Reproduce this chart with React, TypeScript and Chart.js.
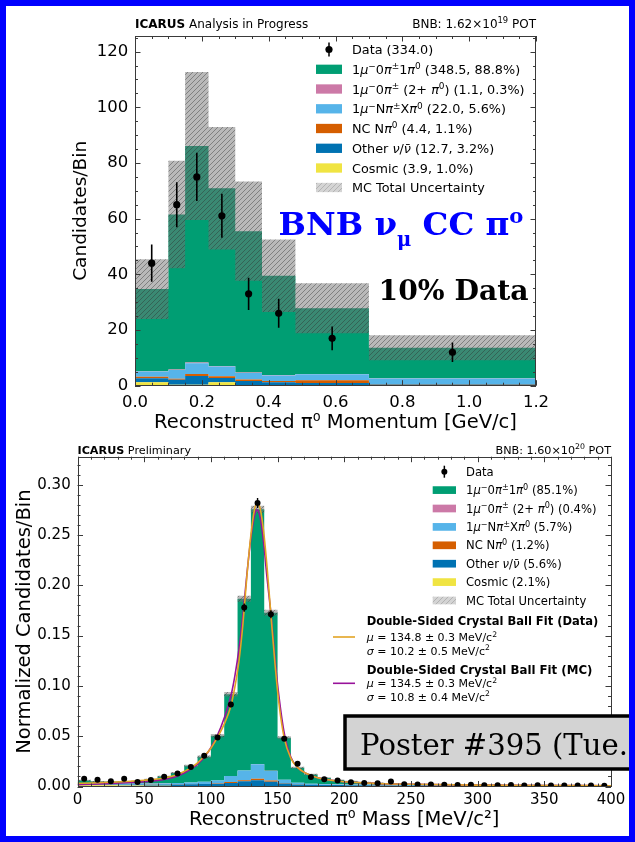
import React, { useEffect, useRef } from "react";
import { Chart, registerables } from "chart.js";
Chart.register(...registerables);

const SANS = "'DejaVu Sans', sans-serif";
const SERIF = "'DejaVu Serif', serif";

const C_SIGNAL = "#009E73";
const C_PINK = "#CC79A7";
const C_LB = "#56B4E9";
const C_NC = "#D55E00";
const C_OTHER = "#0072B2";
const C_COSMIC = "#F0E442";

// ---------------- Top chart: pi0 momentum ----------------
const momEdges = [0, 0.1, 0.15, 0.22, 0.3, 0.38, 0.48, 0.7, 1.2];
const momCosmic = [1.2, 0.3, 0.3, 1.2, 0.2, 0.2, 0.2, 0.1];
const momOther = [1.5, 1.8, 3.2, 1.6, 1.5, 1.0, 0.8, 0.3];
const momNC = [0.5, 0.4, 0.7, 0.6, 0.5, 0.5, 1.0, 0.2];
const momLB = [1.9, 3.1, 3.9, 3.5, 2.4, 2.0, 2.1, 2.0];
const momPink = [0.1, 0.2, 0.2, 0.2, 0.1, 0.1, 0.1, 0.1];
const momSignal = [29.5, 55.7, 77.8, 63.8, 50.8, 35.7, 23.6, 10.9];
const momUnc = [10.7, 19.3, 26.6, 22.0, 17.8, 13.0, 9.0, 4.5];
const momDataX = [0.05, 0.125, 0.185, 0.26, 0.34, 0.43, 0.59, 0.95];
const momData = [44, 65, 75, 61, 33, 26, 17, 12];
const momDataErr = [6.7, 8.1, 8.7, 7.9, 5.8, 5.2, 4.3, 3.5];
const momLegend = [
  "1μ^{−}0π^{±}1π^{0} (348.5, 88.8%)",
  "1μ^{−}0π^{±} (2+ π^{0}) (1.1, 0.3%)",
  "1μ^{−}Nπ^{±}Xπ^{0} (22.0, 5.6%)",
  "NC Nπ^{0} (4.4, 1.1%)",
  "Other ν/ν̄ (12.7, 3.2%)",
  "Cosmic (3.9, 1.0%)",
  "MC Total Uncertainty",
];

// ---------------- Bottom chart: pi0 mass ----------------
const massEdges = Array.from({ length: 41 }, (_, i) => i * 10);
const massCenters = Array.from({ length: 40 }, (_, i) => i * 10 + 5);
const massCosmic = [0.0012, 0.0012, 0.0012, 0.0011, 0.001, 0.0008, 0.0007, 0.0006, 0.0006, 0.0006, 0.0006, 0.0006, 0.0006, 0.0006, 0.0006, 0.0005, 0.0005, 0.0005, 0.0005, 0.0005, 0.0004, 0.0004, 0.0004, 0.0004, 0.0004, 0.0004, 0.0004, 0.0004, 0.0004, 0.0004, 0.0004, 0.0004, 0.0004, 0.0004, 0.0004, 0.0004, 0.0004, 0.0004, 0.0004, 0.0004];
const massOther = [0.0008, 0.0008, 0.0008, 0.0008, 0.0009, 0.001, 0.0012, 0.0014, 0.0016, 0.0018, 0.0022, 0.003, 0.0045, 0.0055, 0.0042, 0.0025, 0.0015, 0.0012, 0.001, 0.0009, 0.0008, 0.0008, 0.0007, 0.0007, 0.0006, 0.0006, 0.0006, 0.0005, 0.0005, 0.0005, 0.0005, 0.0004, 0.0004, 0.0004, 0.0004, 0.0004, 0.0003, 0.0003, 0.0003, 0.0003];
const massNC = [0.0002, 0.0002, 0.0002, 0.0002, 0.0002, 0.0002, 0.0002, 0.0002, 0.0002, 0.0002, 0.0004, 0.0008, 0.0012, 0.0015, 0.0012, 0.0006, 0.0003, 0.0001, 0.0001, 0.0001, 0.0001, 0.0001, 0.0001, 0.0001, 0.0001, 0.0001, 0.0001, 0.0001, 0.0001, 0.0001, 0.0001, 0.0001, 0.0001, 0.0001, 0.0001, 0.0001, 0.0001, 0.0001, 0.0001, 0.0001];
const massLB = [0.0008, 0.0008, 0.0008, 0.0008, 0.0008, 0.0008, 0.001, 0.0012, 0.0015, 0.002, 0.0027, 0.006, 0.0095, 0.0145, 0.0095, 0.003, 0.0014, 0.0009, 0.0007, 0.0006, 0.0005, 0.0005, 0.0004, 0.0004, 0.0004, 0.0003, 0.0003, 0.0003, 0.0003, 0.0003, 0.0003, 0.0003, 0.0003, 0.0003, 0.0003, 0.0003, 0.0003, 0.0003, 0.0003, 0.0003];
const massPink = [0.0001, 0.0001, 0.0001, 0.0001, 0.0001, 0.0001, 0.0001, 0.0001, 0.0001, 0.0001, 0.0001, 0.0001, 0.0002, 0.0003, 0.0002, 0.0001, 0.0001, 0.0001, 0.0001, 0.0001, 0.0001, 0.0001, 0.0001, 0.0001, 0.0001, 0.0001, 0.0001, 0.0001, 0.0001, 0.0001, 0.0001, 0.0001, 0.0001, 0.0001, 0.0001, 0.0001, 0.0001, 0.0001, 0.0001, 0.0001];
const massSignal = [0.0029, 0.0019, 0.0017, 0.002, 0.0025, 0.0041, 0.0068, 0.01, 0.0165, 0.0248, 0.0445, 0.0812, 0.1707, 0.2531, 0.1571, 0.0418, 0.0149, 0.0092, 0.0061, 0.0043, 0.0033, 0.0023, 0.0018, 0.0013, 0.001, 0.0008, 0.0006, 0.0005, 0.0004, 0.0003, 0.0002, 0.0002, 0.0002, 0.0001, 0.0001, 0.0001, 0.0001, 0.0001, 0.0001, 0.0001];
const massUnc = [0.0006, 0.0005, 0.0005, 0.0005, 0.0005, 0.0006, 0.0008, 0.0009, 0.0011, 0.0013, 0.0016, 0.0022, 0.003, 0.0035, 0.0028, 0.0015, 0.0009, 0.0007, 0.0006, 0.0005, 0.0005, 0.0004, 0.0004, 0.0004, 0.0003, 0.0003, 0.0003, 0.0003, 0.0003, 0.0003, 0.0003, 0.0003, 0.0003, 0.0003, 0.0003, 0.0003, 0.0003, 0.0003, 0.0003, 0.0003];
const massData = [0.0078, 0.0068, 0.0052, 0.0078, 0.0045, 0.0065, 0.0098, 0.0128, 0.0195, 0.0305, 0.0488, 0.0815, 0.1778, 0.2818, 0.1712, 0.0475, 0.0227, 0.0094, 0.0073, 0.006, 0.0043, 0.0036, 0.0033, 0.005, 0.0023, 0.002, 0.002, 0.0018, 0.0015, 0.0017, 0.0013, 0.0012, 0.0014, 0.0011, 0.0012, 0.001, 0.0011, 0.0009, 0.001, 0.0008];
const massDataErr = [0.0008, 0.0008, 0.0007, 0.0008, 0.0006, 0.0008, 0.0009, 0.0011, 0.0013, 0.0017, 0.0021, 0.0027, 0.004, 0.005, 0.0039, 0.0021, 0.0014, 0.0009, 0.0008, 0.0007, 0.0006, 0.0006, 0.0005, 0.0007, 0.0005, 0.0004, 0.0004, 0.0004, 0.0004, 0.0004, 0.0004, 0.0004, 0.0004, 0.0004, 0.0004, 0.0004, 0.0004, 0.0004, 0.0004, 0.0004];
const fitDataX = [0, 10, 25, 40, 50, 60, 65, 70, 75, 80, 85, 90, 95, 100, 105, 110, 115, 118, 121, 124, 127, 130, 132.5, 134.8, 137, 139.5, 142, 145, 148, 151, 155, 160, 165, 170, 180, 190, 200, 225, 250, 300, 350, 400];
const fitDataY = [0.0032, 0.0035, 0.0042, 0.0052, 0.0062, 0.0075, 0.0085, 0.01, 0.012, 0.015, 0.0185, 0.0235, 0.03, 0.038, 0.049, 0.062, 0.08, 0.099, 0.124, 0.161, 0.209, 0.25, 0.274, 0.282, 0.276, 0.254, 0.22, 0.171, 0.123, 0.083, 0.048, 0.028, 0.019, 0.014, 0.0088, 0.0062, 0.0047, 0.003, 0.0022, 0.0014, 0.001, 0.0008];
const fitMcX = [0, 10, 25, 40, 50, 60, 65, 70, 75, 80, 85, 90, 95, 100, 105, 110, 115, 118, 121, 124, 127, 130, 132.5, 134.5, 137, 139.5, 142, 145, 148, 151, 155, 160, 165, 170, 180, 190, 200, 225, 250, 300, 350, 400];
const fitMcY = [0.0018, 0.0022, 0.003, 0.004, 0.0048, 0.006, 0.007, 0.0085, 0.0105, 0.0135, 0.0172, 0.0222, 0.029, 0.0385, 0.051, 0.068, 0.09, 0.11, 0.136, 0.17, 0.211, 0.247, 0.268, 0.275, 0.267, 0.243, 0.209, 0.172, 0.128, 0.09, 0.053, 0.029, 0.019, 0.014, 0.0088, 0.0062, 0.0047, 0.003, 0.0022, 0.0014, 0.001, 0.0008];
const massLegend = [
  "1μ^{−}0π^{±}1π^{0} (85.1%)",
  "1μ^{−}0π^{±} (2+ π^{0}) (0.4%)",
  "1μ^{−}Nπ^{±}Xπ^{0} (5.7%)",
  "NC Nπ^{0} (1.2%)",
  "Other ν/ν̄ (5.6%)",
  "Cosmic (2.1%)",
  "MC Total Uncertainty",
];

const C_FIT_DATA = "#E3A424";
const C_FIT_MC = "#98129A";

// ---------------- helpers ----------------
type Seg = { t: string; sup?: boolean; sub?: boolean; it?: boolean };
function parseRich(s: string): Seg[] {
  const segs: Seg[] = [];
  let i = 0;
  let buf = "";
  while (i < s.length) {
    const c = s[i];
    if ((c === "^" || c === "_") && s[i + 1] === "{") {
      if (buf) { segs.push({ t: buf }); buf = ""; }
      const end = s.indexOf("}", i + 2);
      segs.push({ t: s.slice(i + 2, end), sup: c === "^", sub: c === "_" });
      i = end + 1;
    } else { buf += c; i++; }
  }
  if (buf) segs.push({ t: buf });
  return segs;
}

type RichOpts = {
  size: number; family?: string; weight?: string; align?: "left" | "right" | "center";
  color?: string; italicGreek?: boolean; width?: number;
  supScale?: number; subScale?: number; supDy?: number; subDy?: number;
};
function drawRich(ctx: CanvasRenderingContext2D, s: string, x: number, y: number, o: RichOpts): number {
  const fam = o.family || SANS;
  const segs = parseRich(s);
  const runs: Seg[] = [];
  for (const sg of segs) {
    if (o.italicGreek) {
      let cur = ""; let curG: boolean | null = null;
      for (const ch of Array.from(sg.t)) {
        const g = "μπνσ".includes(ch);
        if (curG === null || g === curG) { cur += ch; curG = g; }
        else { runs.push({ ...sg, t: cur, it: !!curG }); cur = ch; curG = g; }
      }
      if (cur) runs.push({ ...sg, t: cur, it: !!curG });
    } else runs.push({ ...sg, it: false });
  }
  const supS = o.supScale ?? 0.7, subS = o.subScale ?? 0.7;
  const fontFor = (r: Seg, sz: number) =>
    `${r.it ? "italic " : ""}${o.weight || "normal"} ${r.sup ? sz * supS : r.sub ? sz * subS : sz}px ${fam}`;
  const measure = (sz: number) => runs.reduce((w, r) => { ctx.font = fontFor(r, sz); return w + ctx.measureText(r.t).width; }, 0);
  let size = o.size;
  if (o.width) size = size * o.width / measure(size);
  const total = measure(size);
  let cx = o.align === "right" ? x - total : o.align === "center" ? x - total / 2 : x;
  ctx.fillStyle = o.color || "#000";
  ctx.textAlign = "left";
  ctx.textBaseline = "alphabetic";
  for (const r of runs) {
    ctx.font = fontFor(r, size);
    const dy = r.sup ? -size * (o.supDy ?? 0.38) : r.sub ? size * (o.subDy ?? 0.2) : 0;
    ctx.fillText(r.t, cx, y + dy);
    cx += ctx.measureText(r.t).width;
  }
  return total;
}

function makeHatch(): CanvasPattern {
  const n = 5;
  const c = document.createElement("canvas");
  c.width = n; c.height = n;
  const g = c.getContext("2d")!;
  g.fillStyle = "rgba(115,115,115,0.5)";
  g.fillRect(0, 0, n, n);
  g.strokeStyle = "rgba(45,45,45,0.45)";
  g.lineWidth = 0.9;
  g.beginPath();
  g.moveTo(0, n); g.lineTo(n, 0);
  g.moveTo(-2, 2); g.lineTo(2, -2);
  g.moveTo(n - 2, n + 2); g.lineTo(n + 2, n - 2);
  g.stroke();
  return g.createPattern(c, "repeat")!;
}

function stepData(edges: number[], vals: number[]) {
  const pts = vals.map((v, i) => ({ x: edges[i], y: v }));
  pts.push({ x: edges[edges.length - 1], y: vals[vals.length - 1] });
  return pts;
}

function histDatasets(edges: number[], comps: { data: number[]; color: string }[], unc: number[], hatch: CanvasPattern) {
  const ds: any[] = [];
  const cum = new Array(edges.length - 1).fill(0);
  comps.forEach((c, k) => {
    for (let i = 0; i < cum.length; i++) cum[i] += c.data[i];
    ds.push({
      type: "line", data: stepData(edges, cum.slice()), stepped: true,
      borderColor: "rgba(0,0,0,0)", borderWidth: 0, pointRadius: 0,
      backgroundColor: c.color, fill: k === 0 ? "origin" : "-1", order: 10,
    });
  });
  const lo = cum.map((v, i) => Math.max(v - unc[i], 0));
  const hi = cum.map((v, i) => v + unc[i]);
  ds.push({ type: "line", data: stepData(edges, lo), stepped: true, borderColor: "rgba(0,0,0,0)", borderWidth: 0, pointRadius: 0, fill: false, order: 5 });
  ds.push({ type: "line", data: stepData(edges, hi), stepped: true, borderColor: "rgba(0,0,0,0)", borderWidth: 0, pointRadius: 0, backgroundColor: hatch, fill: "-1", order: 5 });
  return ds;
}

const isMult = (v: number, s: number) => Math.abs(v / s - Math.round(v / s)) < 1e-6;

const frameTicks = {
  id: "frameTicks",
  afterDatasetsDraw(chart: any, _a: any, opts: any) {
    const { ctx, chartArea: a, scales } = chart;
    const xs = scales.x, ys = scales.y;
    ctx.save();
    ctx.strokeStyle = "#3a3a3a";
    ctx.lineWidth = 1;
    ctx.beginPath();
    for (let v = xs.min; v <= xs.max + 1e-9; v += opts.xMinor) {
      const p = Math.round(xs.getPixelForValue(v)) + 0.5;
      const L = isMult(v, opts.xMajor) ? 5.5 : 3;
      ctx.moveTo(p, a.bottom); ctx.lineTo(p, a.bottom - L);
      ctx.moveTo(p, a.top); ctx.lineTo(p, a.top + L);
    }
    for (let v = ys.min; v <= ys.max + 1e-9; v += opts.yMinor) {
      const p = Math.round(ys.getPixelForValue(v)) + 0.5;
      const L = isMult(v, opts.yMajor) ? 5.5 : 3;
      ctx.moveTo(a.left, p); ctx.lineTo(a.left + L, p);
      ctx.moveTo(a.right, p); ctx.lineTo(a.right - L, p);
    }
    ctx.stroke();
    ctx.strokeRect(Math.round(a.left) + 0.5, Math.round(a.top) + 0.5, Math.round(a.right - a.left) - 1, Math.round(a.bottom - a.top) - 1);
    ctx.restore();
  },
};

const errorBars = {
  id: "errorBars",
  afterDatasetsDraw(chart: any) {
    const { ctx } = chart;
    const xs = chart.scales.x, ys = chart.scales.y;
    chart.data.datasets.forEach((d: any) => {
      if (!d.errY) return;
      ctx.save();
      ctx.strokeStyle = "#000";
      ctx.lineWidth = d.errW || 1.5;
      ctx.beginPath();
      d.data.forEach((p: any, i: number) => {
        const x = xs.getPixelForValue(p.x);
        ctx.moveTo(x, ys.getPixelForValue(p.y - d.errY[i]));
        ctx.lineTo(x, ys.getPixelForValue(p.y + d.errY[i]));
      });
      ctx.stroke();
      ctx.restore();
    });
  },
};

function drawLegend(ctx: CanvasRenderingContext2D, hatch: CanvasPattern, labels: string[], colors: (string | null)[],
  px: number, pw: number, ph: number, tx: number, rows: number[], size: number, dataLabel: string, dotR: number, errH: number) {
  const mx = px + pw / 2;
  ctx.fillStyle = "#000";
  ctx.strokeStyle = "#000";
  ctx.lineWidth = 1.5;
  ctx.beginPath(); ctx.moveTo(mx, rows[0] - errH); ctx.lineTo(mx, rows[0] + errH); ctx.stroke();
  ctx.beginPath(); ctx.arc(mx, rows[0], dotR, 0, Math.PI * 2); ctx.fill();
  drawRich(ctx, dataLabel, tx, rows[0] + size * 0.36, { size, italicGreek: true });
  labels.forEach((lab, i) => {
    const y = rows[i + 1];
    const col = colors[i];
    if (col) { ctx.fillStyle = col; ctx.fillRect(px, y - ph / 2, pw, ph); }
    else {
      ctx.save(); ctx.globalAlpha = 0.6; ctx.fillStyle = hatch as any; ctx.fillRect(px, y - ph / 2, pw, ph); ctx.restore();
    }
    drawRich(ctx, lab, tx, y + size * 0.36, { size, italicGreek: true });
  });
}

const legendColors = [C_SIGNAL, C_PINK, C_LB, C_NC, C_OTHER, C_COSMIC, null];

function topConfig(hatch: CanvasPattern): any {
  const comps = [
    { data: momCosmic, color: C_COSMIC },
    { data: momOther, color: C_OTHER },
    { data: momNC, color: C_NC },
    { data: momLB, color: C_LB },
    { data: momPink, color: C_PINK },
    { data: momSignal, color: C_SIGNAL },
  ];
  const datasets = histDatasets(momEdges, comps, momUnc, hatch);
  datasets.push({
    type: "scatter", data: momDataX.map((x, i) => ({ x, y: momData[i] })),
    backgroundColor: "#000", borderColor: "#000", pointRadius: 3.6, borderWidth: 0, order: 0,
    errY: momDataErr, errW: 1.6,
  });
  const overlay = {
    id: "topOverlay",
    afterDraw(chart: any) {
      const ctx: CanvasRenderingContext2D = chart.ctx;
      ctx.save();
      const hb = 27.5;
      const w = drawRich(ctx, "ICARUS", 135, hb, { size: 12, weight: "bold" });
      drawRich(ctx, " Analysis in Progress", 135 + w, hb, { size: 12 });
      drawRich(ctx, "BNB: 1.62×10^{19} POT", 536, hb, { size: 12, align: "right" });
      const rows = [49.5, 69.3, 89.0, 108.8, 128.5, 148.3, 168.0, 187.5];
      drawLegend(ctx, hatch, momLegend, legendColors, 316, 26, 9.3, 352, rows, 12.8, "Data (334.0)", 3.6, 7);
      drawRich(ctx, "BNB ν_{μ} CC π^{o}", 278.5, 235, {
        size: 34, family: SERIF, weight: "bold", color: "#0000ff", width: 245,
        subScale: 0.6, subDy: 0.35, supScale: 0.65, supDy: 0.36,
      });
      drawRich(ctx, "10% Data", 378.5, 299.5, { size: 28, family: SERIF, weight: "bold", width: 150 });
      ctx.restore();
    },
  };
  return {
    type: "line",
    data: { datasets },
    options: {
      responsive: false, animation: false, devicePixelRatio: 1,
      layout: { padding: { left: 0, right: 99, top: 36, bottom: 0 } },
      plugins: { legend: { display: false }, tooltip: { enabled: false }, frameTicks: { xMajor: 0.2, xMinor: 0.05, yMajor: 20, yMinor: 5 } },
      scales: {
        x: {
          type: "linear", min: 0, max: 1.2,
          ticks: { stepSize: 0.2, includeBounds: false, color: "#000", font: { family: SANS, size: 16.5 }, padding: 7, callback: (v: any) => Number(v).toFixed(1) },
          grid: { display: false, drawTicks: false }, border: { display: false },
          title: { display: true, text: "Reconstructed π⁰ Momentum [GeV/c]", color: "#000", font: { family: SANS, size: 19.5 }, padding: { top: 0, bottom: 5 } },
          afterFit: (s: any) => { s.height = 440 - 385.7; },
        },
        y: {
          type: "linear", min: 0, max: 125.6,
          ticks: { stepSize: 20, includeBounds: false, color: "#000", font: { family: SANS, size: 16.5 }, padding: 6.7 },
          grid: { display: false, drawTicks: false }, border: { display: false },
          title: { display: true, text: "Candidates/Bin", color: "#000", font: { family: SANS, size: 18.5 }, padding: { top: 70.5, bottom: 0 } },
          afterFit: (s: any) => { s.width = 135; },
        },
      },
    },
    plugins: [frameTicks, errorBars, overlay],
  };
}

function botConfig(hatch: CanvasPattern): any {
  const comps = [
    { data: massCosmic, color: C_COSMIC },
    { data: massOther, color: C_OTHER },
    { data: massNC, color: C_NC },
    { data: massLB, color: C_LB },
    { data: massPink, color: C_PINK },
    { data: massSignal, color: C_SIGNAL },
  ];
  const datasets = histDatasets(massEdges, comps, massUnc, hatch);
  datasets.push({
    type: "line", data: fitMcX.map((x, i) => ({ x, y: fitMcY[i] })), borderColor: C_FIT_MC, borderWidth: 1.6,
    pointRadius: 0, fill: false, cubicInterpolationMode: "monotone", order: 2,
  });
  datasets.push({
    type: "line", data: fitDataX.map((x, i) => ({ x, y: fitDataY[i] })), borderColor: C_FIT_DATA, borderWidth: 1.6,
    pointRadius: 0, fill: false, cubicInterpolationMode: "monotone", order: 1,
  });
  datasets.push({
    type: "scatter", data: massCenters.map((x, i) => ({ x, y: massData[i] })),
    backgroundColor: "#000", borderColor: "#000", pointRadius: 3, borderWidth: 0, order: 0,
    errY: massDataErr, errW: 1.4,
  });
  const OFF = 440;
  const overlay = {
    id: "botOverlay",
    afterDraw(chart: any) {
      const ctx: CanvasRenderingContext2D = chart.ctx;
      ctx.save();
      ctx.translate(0, -OFF);
      const hb = 453.5;
      const w = drawRich(ctx, "ICARUS", 77.5, hb, { size: 11.2, weight: "bold" });
      drawRich(ctx, " Preliminary", 77.5 + w, hb, { size: 11.2 });
      drawRich(ctx, "BNB: 1.60×10^{20} POT", 611, hb, { size: 11.2, align: "right" });
      const rows = [471.7, 490.1, 508.5, 526.9, 545.3, 563.7, 582.1, 600.5];
      drawLegend(ctx, hatch, massLegend, legendColors, 432.7, 23.3, 7.7, 466, rows, 11.6, "Data", 3, 6);
      const fs = 11;
      drawRich(ctx, "Double-Sided Crystal Ball Fit (Data)", 366.7, 620.7 + 3.8, { size: 10.5, weight: "bold", width: 232 });
      ctx.strokeStyle = C_FIT_DATA; ctx.lineWidth = 1.6;
      ctx.beginPath(); ctx.moveTo(333, 637); ctx.lineTo(355, 637); ctx.stroke();
      drawRich(ctx, "μ = 134.8 ± 0.3 MeV/c^{2}", 366.7, 637.3 + fs * 0.36, { size: fs, italicGreek: true });
      drawRich(ctx, "σ = 10.2 ± 0.5 MeV/c^{2}", 366.7, 650.7 + fs * 0.36, { size: fs, italicGreek: true });
      drawRich(ctx, "Double-Sided Crystal Ball Fit (MC)", 366.7, 670 + 3.8, { size: 10.5, weight: "bold", width: 226 });
      ctx.strokeStyle = C_FIT_MC; ctx.lineWidth = 1.6;
      ctx.beginPath(); ctx.moveTo(333, 683.3); ctx.lineTo(355, 683.3); ctx.stroke();
      drawRich(ctx, "μ = 134.5 ± 0.3 MeV/c^{2}", 366.7, 683.3 + fs * 0.36, { size: fs, italicGreek: true });
      drawRich(ctx, "σ = 10.8 ± 0.4 MeV/c^{2}", 366.7, 696.7 + fs * 0.36, { size: fs, italicGreek: true });
      // poster box
      ctx.fillStyle = "#d3d3d3";
      ctx.fillRect(345, 716, 320, 53);
      ctx.strokeStyle = "#000"; ctx.lineWidth = 3.5;
      ctx.strokeRect(345, 716, 320, 53);
      ctx.font = `normal 28px ${SERIF}`;
      const mw = ctx.measureText("Poster #395 (Tue.").width;
      const psz = 28 * 268 / mw;
      drawRich(ctx, "Poster #395 (Tue.)", 360, 755, { size: psz, family: SERIF });
      ctx.restore();
    },
  };
  return {
    type: "line",
    data: { datasets },
    options: {
      responsive: false, animation: false, devicePixelRatio: 1,
      layout: { padding: { left: 0, right: 24, top: 456.7 - OFF, bottom: 0 } },
      plugins: { legend: { display: false }, tooltip: { enabled: false }, frameTicks: { xMajor: 50, xMinor: 10, yMajor: 0.05, yMinor: 0.01 } },
      scales: {
        x: {
          type: "linear", min: 0, max: 400,
          ticks: { stepSize: 50, includeBounds: false, color: "#000", font: { family: SANS, size: 15 }, padding: 5, callback: (v: any) => String(Math.round(Number(v))) },
          grid: { display: false, drawTicks: false }, border: { display: false },
          title: { display: true, text: "Reconstructed π⁰ Mass [MeV/c²]", color: "#000", font: { family: SANS, size: 19.5 }, padding: { top: 0, bottom: 10 } },
          afterFit: (s: any) => { s.height = 842 - 786.5; },
        },
        y: {
          type: "linear", min: 0, max: 0.3278,
          ticks: { stepSize: 0.05, includeBounds: false, color: "#000", font: { family: SANS, size: 15 }, padding: 6.8, callback: (v: any) => Number(v).toFixed(2) },
          grid: { display: false, drawTicks: false }, border: { display: false },
          title: { display: true, text: "Normalized Candidates/Bin", color: "#000", font: { family: SANS, size: 19.5 }, padding: { top: 13.3, bottom: 0 } },
          afterFit: (s: any) => { s.width = 77.5; },
        },
      },
    },
    plugins: [frameTicks, errorBars, overlay],
  };
}

export default function App() {
  const topRef = useRef<HTMLCanvasElement>(null);
  const botRef = useRef<HTMLCanvasElement>(null);
  useEffect(() => {
    const hatch = makeHatch();
    const c1 = new Chart(topRef.current!, topConfig(hatch));
    const c2 = new Chart(botRef.current!, botConfig(hatch));
    return () => { c1.destroy(); c2.destroy(); };
  }, []);
  return (
    <div style={{ position: "absolute", left: 0, top: 0, width: 635, height: 842, overflow: "hidden", background: "#fff" }}>
      <canvas ref={topRef} width={635} height={440} style={{ position: "absolute", left: 0, top: 0, width: 635, height: 440 }} />
      <canvas ref={botRef} width={635} height={402} style={{ position: "absolute", left: 0, top: 440, width: 635, height: 402 }} />
      <div style={{ position: "absolute", left: 0, top: 0, width: 635, height: 842, boxSizing: "border-box", border: "6px solid #0000ff", pointerEvents: "none" }} />
    </div>
  );
}
